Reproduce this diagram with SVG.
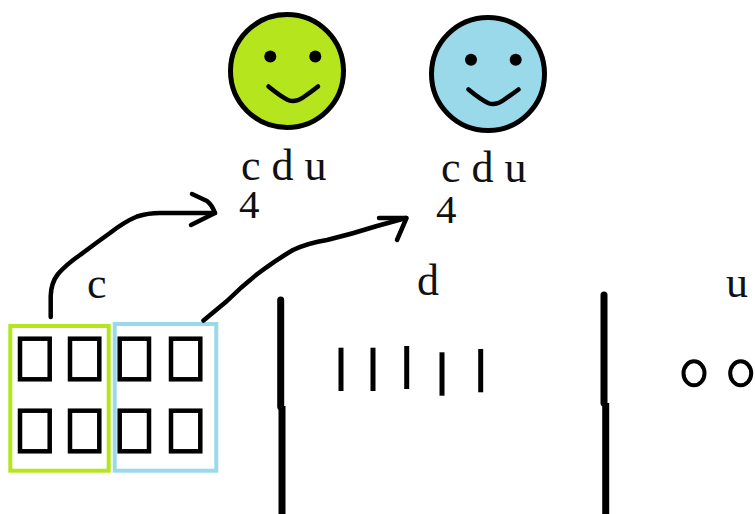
<svg xmlns="http://www.w3.org/2000/svg" width="755" height="514" viewBox="0 0 755 514">
<style>
.t{font-family:"Liberation Serif","Times New Roman",serif;font-size:44px;fill:#111}
.n{font-size:41px}
.ln{fill:none;stroke:#000;stroke-linecap:round;stroke-linejoin:round}
.face{stroke:#000;stroke-width:5}
.eye{fill:#000}
.box{fill:none;stroke:#000;stroke-width:4.5}
.tick{stroke:#000;stroke-width:5}
.bar{stroke:#000;stroke-width:7}
.o{fill:none;stroke:#000;stroke-width:4}
</style>
<rect width="755" height="514" fill="#fff"/>
<g id="face-green">
<circle class="face" cx="287" cy="71" r="56.5" fill="#B5E61D"/>
<circle class="eye" cx="270.3" cy="56.5" r="6"/><circle class="eye" cx="315.3" cy="56.5" r="6"/>
<path class="ln" stroke-width="4.5" d="M268.5 86.5Q280 96 288 100Q295 103 303 97.5Q311 92 318 86.5"/>
<text class="t" x="241" y="180">c d u</text>
<text class="t n" x="239" y="218">4</text>
</g>
<g id="face-blue">
<circle class="face" cx="488" cy="74" r="56.5" fill="#99D9EA"/>
<circle class="eye" cx="471" cy="59.7" r="6"/><circle class="eye" cx="515.7" cy="59.7" r="6"/>
<path class="ln" stroke-width="4.5" d="M468.5 89.5Q480 99 488 103Q495 106 503 100.5Q511 95 518.5 89.5"/>
<text class="t" x="441" y="182">c d u</text>
<text class="t n" x="436" y="223">4</text>
</g>
<g id="group-c">
<text class="t" x="87" y="298">c</text>
<rect x="10.3" y="326" width="98.4" height="144.7" fill="none" stroke="#B5E61D" stroke-width="4"/>
<rect x="114.7" y="324" width="101.6" height="146.7" fill="none" stroke="#99D9EA" stroke-width="4"/>
<rect class="box" x="20" y="338.7" width="29.7" height="40.6"/><rect class="box" x="70" y="338.7" width="29.3" height="40.6"/>
<rect class="box" x="119.7" y="338.7" width="29.3" height="40.6"/><rect class="box" x="171" y="338.7" width="29.3" height="40.6"/>
<rect class="box" x="20" y="410.7" width="29.7" height="40.6"/><rect class="box" x="70" y="410.7" width="29.3" height="40.6"/>
<rect class="box" x="119.7" y="410.7" width="29.3" height="40.6"/><rect class="box" x="171" y="410.7" width="29.3" height="40.6"/>
</g>
<g id="group-d">
<text class="t" x="417" y="295">d</text>
<line class="tick" x1="341" y1="347.7" x2="341" y2="391"/>
<line class="tick" x1="373" y1="347.7" x2="373" y2="391"/>
<line class="tick" x1="406.7" y1="346" x2="406.7" y2="389"/>
<line class="tick" x1="442" y1="352.3" x2="442" y2="395.7"/>
<line class="tick" x1="480.7" y1="349" x2="480.7" y2="392.3"/>
</g>
<g id="group-u">
<text class="t" x="726" y="297">u</text>
<ellipse class="o" cx="694" cy="373.3" rx="10.5" ry="12"/>
<ellipse class="o" cx="740.7" cy="373.3" rx="10.5" ry="12"/>
</g>
<g id="dividers">
<path class="bar" stroke-linecap="round" d="M280.7 300V406.7"/>
<path class="bar" d="M282 406V514"/>
<path class="bar" stroke-linecap="round" d="M604 295V403"/>
<path class="bar" d="M605.7 403V514"/>
</g>
<g id="connectors">
<path class="ln" stroke-width="4.5" d="M50.7 317V296Q51 283 58 274Q67 264 80 255Q96 243 110 233Q124 222 137 216.5Q148 213 160 213H215"/>
<path class="ln" stroke-width="4.5" d="M192 194L207 201Q212 205 215 213L191 225"/>
<path class="ln" stroke-width="4.5" d="M203.5 320.5L227 301Q243 285 260 272Q276 260 293 250Q308 243 327 240Q352 234 377 226L406 218"/>
<path class="ln" stroke-width="4.5" d="M379 218H406.5L397 240"/>
</g>
</svg>
